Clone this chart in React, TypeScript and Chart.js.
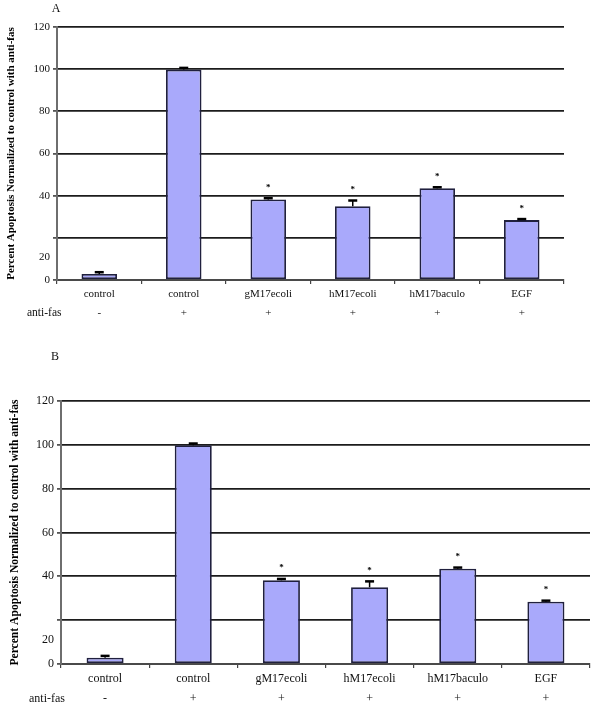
import React, { useEffect, useRef } from "react";
import { Chart, registerables } from "chart.js";

Chart.register(...registerables);

// ---- data ----
const categories = ["control", "control", "gM17ecoli", "hM17ecoli", "hM17baculo", "EGF"];
const antiFas = ["-", "+", "+", "+", "+", "+"];
const apoptosis = [2.9, 99.8, 38.2, 35.0, 43.5, 28.4];
const errorUp = [0.8, 0.8, 0.6, 2.7, 0.5, 0.5];
const significant = [false, false, true, true, true, true];
// the printed "20" label sits well below its gridline in the original figure
const yTickValues = [0, 11, 20, 40, 60, 80, 100, 120];
const yTickLabels = ["0", "20", "", "40", "60", "80", "100", "120"];
const yTitle = "Percent Apoptosis Normalized to control with anti-fas";
const rowLabel = "anti-fas";

const FAMILY = "'Liberation Serif', 'Times New Roman', serif";

type PanelCfg = {
  letter: string;
  top: number;
  height: number;
  yAxisWidth: number;
  padRight: number;
  padTop: number;
  xAxisHeight: number;
  tickSize: number;
  xSize: number;
  xLineHeight: number;
  xPad: number;
  titleSize: number;
  titlePad: number;
  letterX: number;
  letterY: number;
  rowX: number;
  rowSize: number;
};

const panels: PanelCfg[] = [
  {
    letter: "A", top: 0, height: 330, yAxisWidth: 57, padRight: 36, padTop: 27,
    xAxisHeight: 50, tickSize: 11, xSize: 11, xLineHeight: 19 / 11, xPad: 0.5,
    titleSize: 11, titlePad: 5, letterX: 56, letterY: 9, rowX: 27, rowSize: 11.5,
  },
  {
    letter: "B", top: 330, height: 379, yAxisWidth: 61, padRight: 10, padTop: 71,
    xAxisHeight: 45, tickSize: 12, xSize: 12, xLineHeight: 20 / 12, xPad: 1.3,
    titleSize: 11.6, titlePad: 8, letterX: 55, letterY: 27, rowX: 29, rowSize: 12,
  },
];

function Panel({ cfg }: { cfg: PanelCfg }) {
  const ref = useRef<HTMLCanvasElement | null>(null);
  useEffect(() => {
    if (!ref.current) return;
    const overlay = {
      id: "overlay",
      afterDatasetsDraw(chart: any) {
        const { ctx, scales } = chart;
        const x = scales.x, y = scales.y;
        ctx.save();
        apoptosis.forEach((v, i) => {
          const px = x.getPixelForValue(i);
          const yb = y.getPixelForValue(v);
          const yt = y.getPixelForValue(v + errorUp[i]);
          ctx.strokeStyle = "#000";
          ctx.lineWidth = 1.5;
          ctx.beginPath();
          ctx.moveTo(px, yb);
          ctx.lineTo(px, yt);
          ctx.stroke();
          ctx.lineWidth = 2.5;
          ctx.beginPath();
          ctx.moveTo(px - 4.5, yt);
          ctx.lineTo(px + 4.5, yt);
          ctx.stroke();
          if (significant[i]) {
            ctx.fillStyle = "#000";
            ctx.font = `bold 9px ${FAMILY}`;
            ctx.textAlign = "center";
            ctx.textBaseline = "alphabetic";
            ctx.fillText("*", px, yt - 14 + 5.5);
          }
        });
        ctx.restore();
      },
      afterDraw(chart: any) {
        const { ctx, scales } = chart;
        const x = scales.x;
        ctx.save();
        ctx.fillStyle = "#111";
        ctx.textBaseline = "middle";
        ctx.textAlign = "center";
        ctx.font = `12px ${FAMILY}`;
        ctx.fillText(cfg.letter, cfg.letterX, cfg.letterY);
        const lh = cfg.xSize * cfg.xLineHeight;
        const rowY = x.top + 4 + cfg.xPad + lh * 1.5;
        ctx.textAlign = "left";
        ctx.font = `${cfg.rowSize}px ${FAMILY}`;
        ctx.fillStyle = "#111";
        ctx.fillText(rowLabel, cfg.rowX, rowY);
        ctx.restore();
      },
    };
    const hidden = (c: any) => c.tick && c.tick.value === 11;
    const chart = new Chart(ref.current, {
      type: "bar",
      data: {
        labels: categories.map((c, i) => [c, antiFas[i]]),
        datasets: [
          {
            data: apoptosis,
            backgroundColor: "#a9a9fb",
            borderColor: "#20203e",
            borderWidth: 1.8,
            borderSkipped: false,
            barPercentage: 0.42,
            categoryPercentage: 1,
          },
        ],
      },
      options: {
        animation: false,
        responsive: false,
        devicePixelRatio: 1,
        layout: { padding: { top: cfg.padTop, right: cfg.padRight, left: 0, bottom: 0 } },
        plugins: { legend: { display: false }, tooltip: { enabled: false } },
        scales: {
          x: {
            offset: true,
            afterFit: (s: any) => { s.height = cfg.xAxisHeight; },
            grid: {
              display: true, drawOnChartArea: false, drawTicks: true, tickLength: 4,
              tickColor: "#444", offset: true, lineWidth: 1.2,
            },
            border: { display: true, color: "#4a4a4a", width: 2 },
            ticks: {
              font: { family: FAMILY, size: cfg.xSize, lineHeight: cfg.xLineHeight },
              color: "#111", padding: cfg.xPad, autoSkip: false, maxRotation: 0,
            },
          },
          y: {
            min: 0,
            max: 120,
            afterBuildTicks: (s: any) => { s.ticks = yTickValues.map((v) => ({ value: v })); },
            afterFit: (s: any) => { s.width = cfg.yAxisWidth; },
            ticks: {
              callback: (_v: any, i: number) => yTickLabels[i],
              font: { family: FAMILY, size: cfg.tickSize },
              color: "#111",
              padding: 3,
              autoSkip: false,
            },
            grid: {
              color: (c: any) => (hidden(c) ? "rgba(0,0,0,0)" : "#1c1c1c"),
              tickColor: (c: any) => (hidden(c) ? "rgba(0,0,0,0)" : "#555"),
              lineWidth: 1.8,
              tickLength: 4,
            },
            border: { display: true, color: "#6e6e6e", width: 2 },
            title: {
              display: true,
              text: yTitle,
              color: "#000",
              font: { family: FAMILY, size: cfg.titleSize, weight: "bold" },
              padding: { top: cfg.titlePad, bottom: 0 },
            },
          },
        },
      },
      plugins: [overlay],
    } as any);
    return () => chart.destroy();
  }, [cfg]);
  return (
    <canvas
      ref={ref}
      width={600}
      height={cfg.height}
      style={{ position: "absolute", left: 0, top: cfg.top, width: 600, height: cfg.height }}
    />
  );
}

export default function App() {
  return (
    <div style={{ position: "absolute", left: 0, top: 0, width: 600, height: 709, background: "#fff" }}>
      {panels.map((p) => (
        <Panel key={p.letter} cfg={p} />
      ))}
    </div>
  );
}
